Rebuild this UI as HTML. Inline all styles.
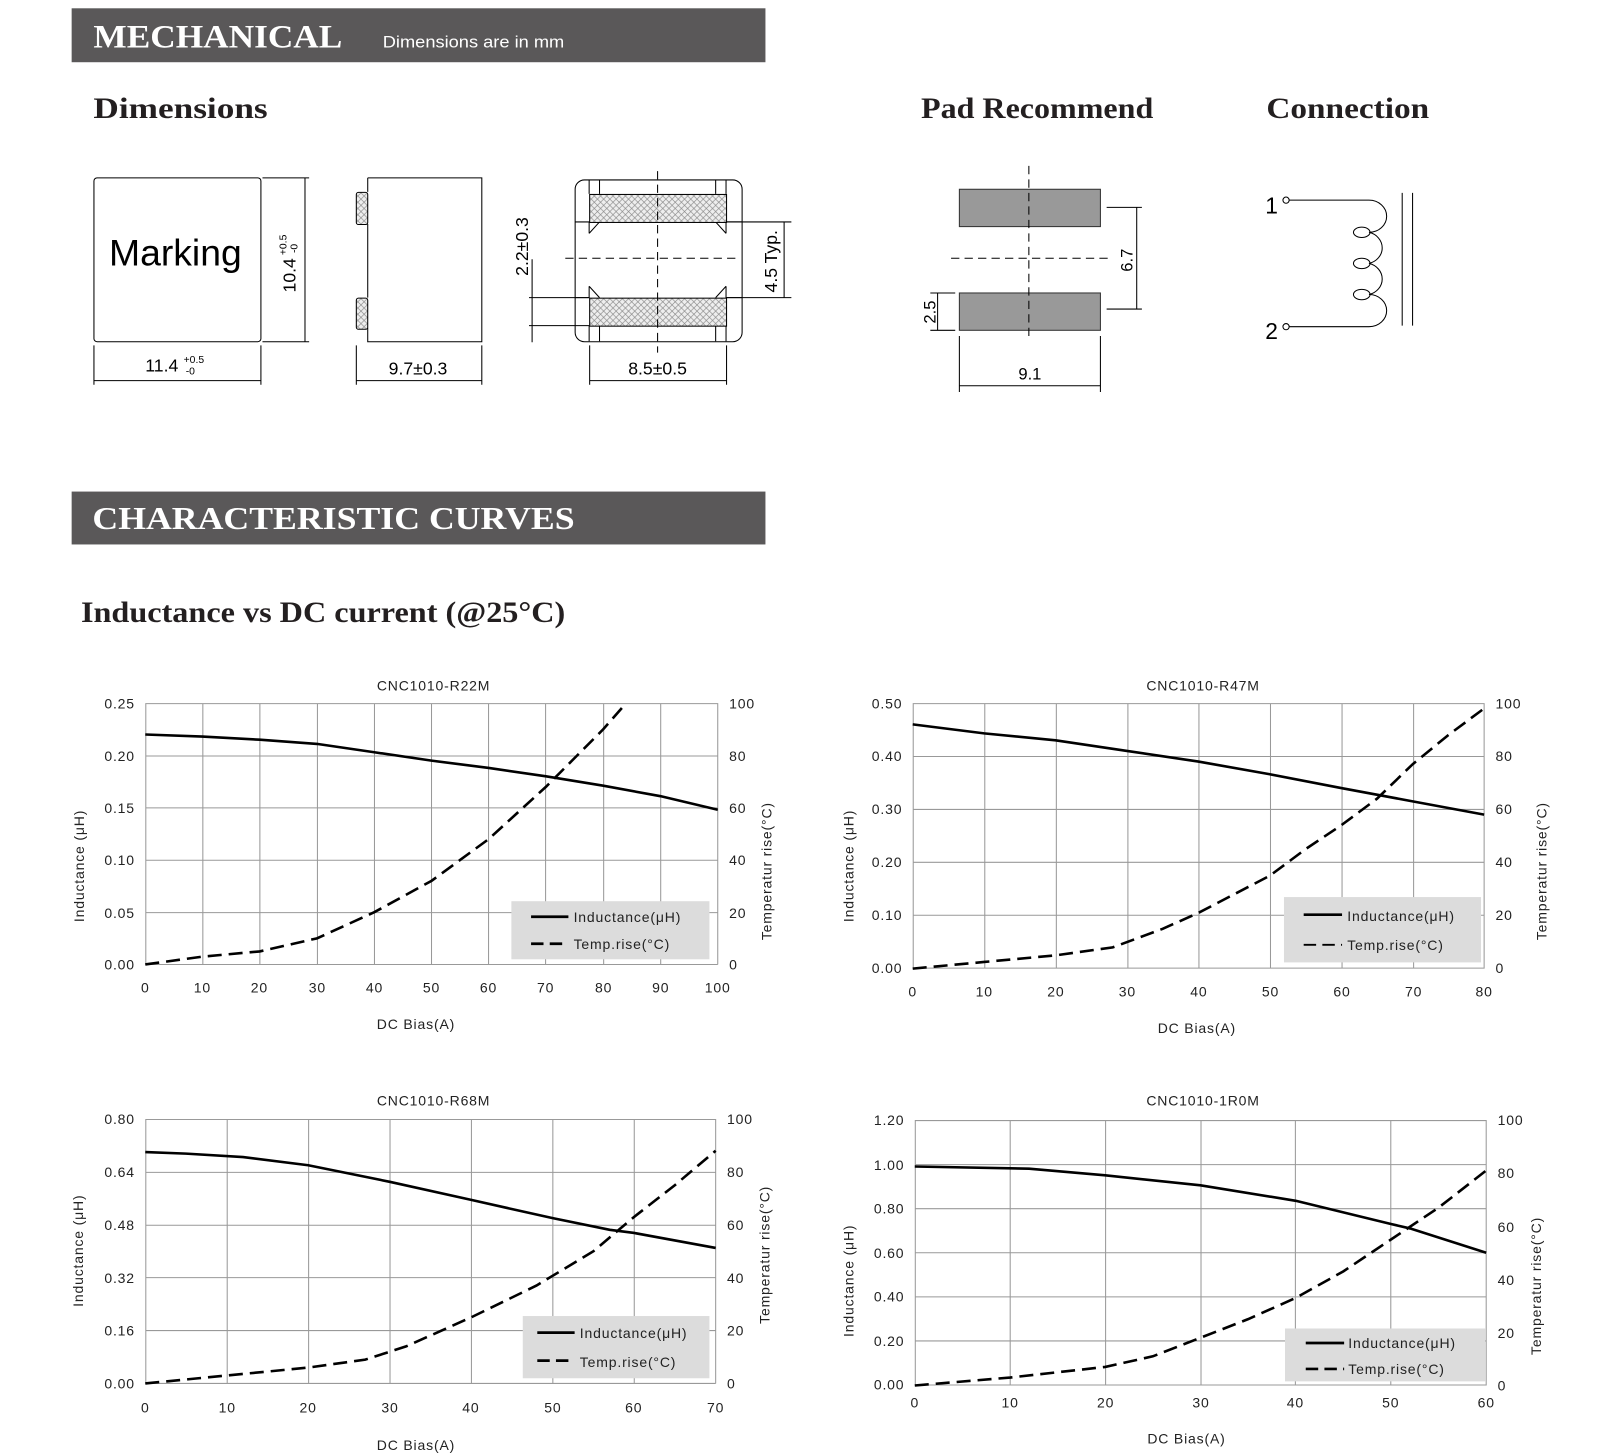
<!DOCTYPE html>
<html><head><meta charset="utf-8"><style>
html,body{margin:0;padding:0;background:#fff}
svg{display:block}
.s{font-family:"Liberation Sans",sans-serif}
.h{font-family:"Liberation Serif",serif;font-weight:bold}
.g{stroke:#999;stroke-width:1;fill:none}
.ax{font-family:"Liberation Sans",sans-serif;font-size:13.5px;fill:#222;letter-spacing:0.8px}
.ind{fill:none;stroke:#000;stroke-width:2.6;vector-effect:non-scaling-stroke}
.tmp{fill:none;stroke:#000;stroke-width:2.6;stroke-dasharray:14 7;vector-effect:non-scaling-stroke}
.dl{stroke:#000;stroke-width:1;fill:none}
.dash{stroke:#000;stroke-width:1;stroke-dasharray:8 5;fill:none}
</style></head><body>
<svg width="1618" height="1455" viewBox="0 0 1560 1403" xmlns="http://www.w3.org/2000/svg">
<defs>
<pattern id="hx" width="6" height="6" patternUnits="userSpaceOnUse"><rect width="6" height="6" fill="#eee"/><path d="M0 0L6 6M6 0L0 6" stroke="#888" stroke-width="0.6"/></pattern>
</defs>
<!-- header 1 -->
<rect x="69" y="8" width="669" height="52" fill="#5a5859"/>
<text x="90" y="46" class="h" font-size="32" fill="#fff" textLength="240" lengthAdjust="spacingAndGlyphs">MECHANICAL</text>
<text x="369" y="46" class="s" font-size="16" fill="#fff" textLength="175" lengthAdjust="spacingAndGlyphs">Dimensions are in mm</text>
<text x="90" y="114" class="h" font-size="29" fill="#231f20" textLength="168" lengthAdjust="spacingAndGlyphs">Dimensions</text>
<text x="888" y="114" class="h" font-size="29" fill="#231f20" textLength="224" lengthAdjust="spacingAndGlyphs">Pad Recommend</text>
<text x="1221" y="114" class="h" font-size="29" fill="#231f20" textLength="157" lengthAdjust="spacingAndGlyphs">Connection</text>

<!-- view 1 -->
<rect x="90.5" y="171.5" width="161" height="158" rx="3" class="dl"/>
<text x="105" y="256" class="s" font-size="36" fill="#000">Marking</text>
<path d="M253 171.5H298M253 329.5H298M294 172V329" class="dl"/>
<path d="M90.5 333V371M251.5 333V371M91 367H251" class="dl"/>
<text x="140" y="358" class="s" font-size="17">11.4</text>
<text x="177" y="350" class="s" font-size="10">+0.5</text>
<text x="179" y="361" class="s" font-size="10">-0</text>
<g transform="translate(285,282) rotate(-90)"><text x="0" y="0" class="s" font-size="17">10.4</text><text x="36" y="-9" class="s" font-size="10">+0.5</text><text x="38" y="2" class="s" font-size="10">-0</text></g>

<!-- view 2 -->
<path d="M354.5 171.5H464.5V329.5H354.5V316M354.5 287V216M354.5 185V171.5" class="dl"/>
<rect x="343.5" y="185.5" width="11" height="31" rx="2" fill="url(#hx)" stroke="#000"/>
<rect x="343.5" y="287.5" width="11" height="30" rx="2" fill="url(#hx)" stroke="#000"/>
<path d="M343.5 333V371M464.5 333V371M344 367H464" class="dl"/>
<text x="403" y="361" class="s" font-size="17" text-anchor="middle">9.7±0.3</text>

<!-- view 3 -->
<rect x="554.5" y="173.5" width="161" height="156" rx="9" class="dl"/>
<path d="M568 174V187M700 174V187M578 174V187M690 174V187M568 314V329M700 314V329M578 314V329M690 314V329" class="dl"/>
<path d="M554.5 214H568V225M715.5 214H700V225M554.5 287H568V276M715.5 287H700V276M568 225L578 214M700 225L690 214M568 276L578 287M700 276L690 287" class="dl"/>
<rect x="568.5" y="187.5" width="132" height="27" fill="url(#hx)" stroke="#000"/>
<rect x="568.5" y="287.5" width="132" height="27" fill="url(#hx)" stroke="#000"/>
<path d="M634 165V340M545 249H712" class="dash"/>
<path d="M510 287H568M510 314H568M513 250V330" class="dl"/>
<path d="M700 214H763M700 287H763M756 214V287" class="dl"/>
<text transform="translate(509,266) rotate(-90)" class="s" font-size="17">2.2±0.3</text>
<text transform="translate(749,282) rotate(-90)" class="s" font-size="17">4.5 Typ.</text>
<path d="M568.5 333V371M700.5 333V371M569 367H700" class="dl"/>
<text x="634" y="361" class="s" font-size="17" text-anchor="middle">8.5±0.5</text>

<!-- pad -->
<rect x="925" y="182.5" width="136" height="36" fill="#999" stroke="#333"/>
<rect x="925" y="282.5" width="136" height="36" fill="#999" stroke="#333"/>
<path d="M992 160V324M917 249H1070" class="dash"/>
<path d="M1067 200H1101M1067 298H1101M1096 200V298" class="dl"/>
<text transform="translate(1092,262) rotate(-90)" class="s" font-size="16">6.7</text>
<path d="M897 282.5H921M897 318.5H921M904 283V318" class="dl"/>
<text transform="translate(902,312) rotate(-90)" class="s" font-size="16">2.5</text>
<path d="M925 324V378M1061 324V378M925 372H1061" class="dl"/>
<text x="993" y="366" class="s" font-size="16" text-anchor="middle">9.1</text>

<!-- connection -->
<text x="1220" y="206" class="s" font-size="22">1</text>
<text x="1220" y="327" class="s" font-size="22">2</text>
<circle cx="1240" cy="193" r="3" class="dl"/>
<circle cx="1240" cy="315" r="3" class="dl"/>
<path d="M1243 193H1320A17 15.5 0 0 1 1320 224A17 15.5 0 0 1 1320 254A17 15.5 0 0 1 1320 284A17 15.5 0 0 1 1320 315H1243" class="dl"/>
<ellipse cx="1313" cy="224" rx="8" ry="5" class="dl"/>
<ellipse cx="1313" cy="254" rx="8" ry="5" class="dl"/>
<ellipse cx="1313" cy="284" rx="8" ry="5" class="dl"/>
<path d="M1352 186V314M1362 186V314" class="dl"/>

<!-- header 2 -->
<rect x="69" y="474" width="669" height="51" fill="#5a5859"/>
<text x="89" y="510" class="h" font-size="31" fill="#fff" textLength="465" lengthAdjust="spacingAndGlyphs">CHARACTERISTIC CURVES</text>
<text x="78" y="600" class="h" font-size="29" fill="#231f20" textLength="467" lengthAdjust="spacingAndGlyphs">Inductance vs DC current (@25°C)</text>

<!-- ===== Chart 1 ===== -->
<g>
<text x="418" y="666" class="ax" text-anchor="middle">CNC1010-R22M</text>
<path class="g" d="M140 678.5H692M140 729H692M140 779H692M140 829.5H692M140 880H692M140 930H692M140.5 678V930M195.5 678V930M250.5 678V930M306 678V930M361 678V930M416 678V930M471 678V930M526 678V930M582 678V930M637 678V930M692 678V930"/>
<g class="ax" text-anchor="end"><text x="130" y="683">0.25</text><text x="130" y="734">0.20</text><text x="130" y="784">0.15</text><text x="130" y="834">0.10</text><text x="130" y="885">0.05</text><text x="130" y="935">0.00</text></g>
<g class="ax"><text x="703" y="683">100</text><text x="703" y="734">80</text><text x="703" y="784">60</text><text x="703" y="834">40</text><text x="703" y="885">20</text><text x="703" y="935">0</text></g>
<g class="ax" text-anchor="middle"><text x="140" y="957">0</text><text x="195" y="957">10</text><text x="250" y="957">20</text><text x="306" y="957">30</text><text x="361" y="957">40</text><text x="416" y="957">50</text><text x="471" y="957">60</text><text x="526" y="957">70</text><text x="582" y="957">80</text><text x="637" y="957">90</text><text x="692" y="957">100</text></g>
<text x="401" y="992" class="ax" text-anchor="middle">DC Bias(A)</text>
<text transform="translate(81,835) rotate(-90)" class="ax" text-anchor="middle">Inductance (μH)</text>
<text transform="translate(744,840) rotate(-90)" class="ax" text-anchor="middle">Temperatur rise(°C)</text>
<rect x="493" y="869" width="191" height="56" fill="#dcdcdc"/>
<path d="M512 884H548" stroke="#000" stroke-width="2.6"/><path d="M512 910H548" stroke="#000" stroke-width="2.6" stroke-dasharray="12 6"/>
<text x="553" y="889" class="ax">Inductance(μH)</text><text x="553" y="915" class="ax">Temp.rise(°C)</text>
<svg x="140" y="678" width="552" height="252" viewBox="0 0 100 100" preserveAspectRatio="none" overflow="visible">
<polyline class="ind" points="0,12 10,12.8 20,14 30,15.6 40,18.8 50,22 60,24.8 70,28 80,31.6 90,35.6 100,40.8"/>
<polyline class="tmp" points="0,100 10,97 20,95 30,90 40,80 50,68 55,60 60,52 65,42 70,32 75,21 80,10 84,0"/>
</svg>
</g>

<!-- ===== Chart 2 ===== -->
<g>
<text x="1160" y="666" class="ax" text-anchor="middle">CNC1010-R47M</text>
<path class="g" d="M880 678.5H1431M880 729.5H1431M880 780.5H1431M880 831.5H1431M880 882.5H1431M880 933.5H1431M880.5 678V934M949.5 678V934M1018.5 678V934M1087.5 678V934M1156 678V934M1225 678V934M1294 678V934M1363 678V934M1431 678V934"/>
<g class="ax" text-anchor="end"><text x="870" y="683">0.50</text><text x="870" y="734">0.40</text><text x="870" y="785">0.30</text><text x="870" y="836">0.20</text><text x="870" y="887">0.10</text><text x="870" y="938">0.00</text></g>
<g class="ax"><text x="1442" y="683">100</text><text x="1442" y="734">80</text><text x="1442" y="785">60</text><text x="1442" y="836">40</text><text x="1442" y="887">20</text><text x="1442" y="938">0</text></g>
<g class="ax" text-anchor="middle"><text x="880" y="961">0</text><text x="949" y="961">10</text><text x="1018" y="961">20</text><text x="1087" y="961">30</text><text x="1156" y="961">40</text><text x="1225" y="961">50</text><text x="1294" y="961">60</text><text x="1363" y="961">70</text><text x="1431" y="961">80</text></g>
<text x="1154" y="996" class="ax" text-anchor="middle">DC Bias(A)</text>
<text transform="translate(823,835) rotate(-90)" class="ax" text-anchor="middle">Inductance (μH)</text>
<text transform="translate(1491,840) rotate(-90)" class="ax" text-anchor="middle">Temperatur rise(°C)</text>
<rect x="1238" y="865" width="190" height="63" fill="#dcdcdc"/>
<path d="M1257 882H1294" stroke="#000" stroke-width="2.6"/><path d="M1257 911H1294" stroke="#000" stroke-width="1.8" stroke-dasharray="12 6"/>
<text x="1299" y="888" class="ax">Inductance(μH)</text><text x="1299" y="916" class="ax">Temp.rise(°C)</text>
<svg x="880" y="678" width="551" height="256" viewBox="0 0 80 100" preserveAspectRatio="none" overflow="visible">
<polyline class="ind" points="0,8 10,11.4 20,14 30,18 40,22 50,26.8 60,32 70,37 80,42"/>
<polyline class="tmp" points="0,100 10,97.5 20,95 28,92 35,85 40,79 45,72 50,65 55,55 60,46 65,36 70,23 75,12 80,2"/>
</svg>
</g>

<!-- ===== Chart 3 ===== -->
<g>
<text x="418" y="1066" class="ax" text-anchor="middle">CNC1010-R68M</text>
<path class="g" d="M140 1079.5H690M140 1130.5H690M140 1181.5H690M140 1232H690M140 1283H690M140 1334H690M140.5 1079V1334M219 1079V1334M297.5 1079V1334M376 1079V1334M454.5 1079V1334M533 1079V1334M611.5 1079V1334M690 1079V1334"/>
<g class="ax" text-anchor="end"><text x="130" y="1084">0.80</text><text x="130" y="1135">0.64</text><text x="130" y="1186">0.48</text><text x="130" y="1237">0.32</text><text x="130" y="1288">0.16</text><text x="130" y="1339">0.00</text></g>
<g class="ax"><text x="701" y="1084">100</text><text x="701" y="1135">80</text><text x="701" y="1186">60</text><text x="701" y="1237">40</text><text x="701" y="1288">20</text><text x="701" y="1339">0</text></g>
<g class="ax" text-anchor="middle"><text x="140" y="1362">0</text><text x="219" y="1362">10</text><text x="297" y="1362">20</text><text x="376" y="1362">30</text><text x="454" y="1362">40</text><text x="533" y="1362">50</text><text x="611" y="1362">60</text><text x="690" y="1362">70</text></g>
<text x="401" y="1398" class="ax" text-anchor="middle">DC Bias(A)</text>
<text transform="translate(80,1206) rotate(-90)" class="ax" text-anchor="middle">Inductance (μH)</text>
<text transform="translate(742,1210) rotate(-90)" class="ax" text-anchor="middle">Temperatur rise(°C)</text>
<rect x="504" y="1269" width="180" height="60" fill="#dcdcdc"/>
<path d="M518 1285H554" stroke="#000" stroke-width="2.6"/><path d="M518 1312H554" stroke="#000" stroke-width="2.6" stroke-dasharray="12 6"/>
<text x="559" y="1290" class="ax">Inductance(μH)</text><text x="559" y="1318" class="ax">Temp.rise(°C)</text>
<svg x="140" y="1079" width="550" height="255" viewBox="0 0 70 100" preserveAspectRatio="none" overflow="visible">
<polyline class="ind" points="0,12.5 5,13.1 12,14.4 20,17.5 30,23.75 40,30.6 50,37.5 57,41.9 60,43.1 70,48.75"/>
<polyline class="tmp" points="0,100 10,97 20,94 27,91 32,86 40,75 48,63 55,50 60,37 65,25 70,12"/>
</svg>
</g>

<!-- ===== Chart 4 ===== -->
<g>
<text x="1160" y="1066" class="ax" text-anchor="middle">CNC1010-1R0M</text>
<path class="g" d="M882 1080.5H1433M882 1123H1433M882 1165.5H1433M882 1208H1433M882 1250.5H1433M882 1293H1433M882 1335.5H1433M882.5 1080V1336M974 1080V1336M1066 1080V1336M1158 1080V1336M1249 1080V1336M1341 1080V1336M1433 1080V1336"/>
<g class="ax" text-anchor="end"><text x="872" y="1085">1.20</text><text x="872" y="1128">1.00</text><text x="872" y="1170">0.80</text><text x="872" y="1213">0.60</text><text x="872" y="1255">0.40</text><text x="872" y="1298">0.20</text><text x="872" y="1340">0.00</text></g>
<g class="ax"><text x="1444" y="1085">100</text><text x="1444" y="1136">80</text><text x="1444" y="1188">60</text><text x="1444" y="1239">40</text><text x="1444" y="1290">20</text><text x="1444" y="1341">0</text></g>
<g class="ax" text-anchor="middle"><text x="882" y="1357">0</text><text x="974" y="1357">10</text><text x="1066" y="1357">20</text><text x="1158" y="1357">30</text><text x="1249" y="1357">40</text><text x="1341" y="1357">50</text><text x="1433" y="1357">60</text></g>
<text x="1144" y="1392" class="ax" text-anchor="middle">DC Bias(A)</text>
<text transform="translate(823,1235) rotate(-90)" class="ax" text-anchor="middle">Inductance (μH)</text>
<text transform="translate(1486,1240) rotate(-90)" class="ax" text-anchor="middle">Temperatur rise(°C)</text>
<rect x="1239" y="1281" width="193" height="51" fill="#dcdcdc"/>
<path d="M1259 1295H1296" stroke="#000" stroke-width="2.6"/><path d="M1259 1320H1296" stroke="#000" stroke-width="2.6" stroke-dasharray="12 6"/>
<text x="1300" y="1300" class="ax">Inductance(μH)</text><text x="1300" y="1325" class="ax">Temp.rise(°C)</text>
<svg x="882" y="1080" width="551" height="256" viewBox="0 0 60 120" preserveAspectRatio="none" overflow="visible">
<polyline class="ind" points="0,21 12,22 20,25 30,29.5 40,36.5 50,47 52,49 60,60"/>
<polyline class="tmp" points="0,120 10,116.4 20,111.6 25,106.8 30,98.4 35,90 40,80.4 45,68.4 50,54 55,39.6 60,22.8"/>
</svg>
</g>
</svg>
</body></html>
